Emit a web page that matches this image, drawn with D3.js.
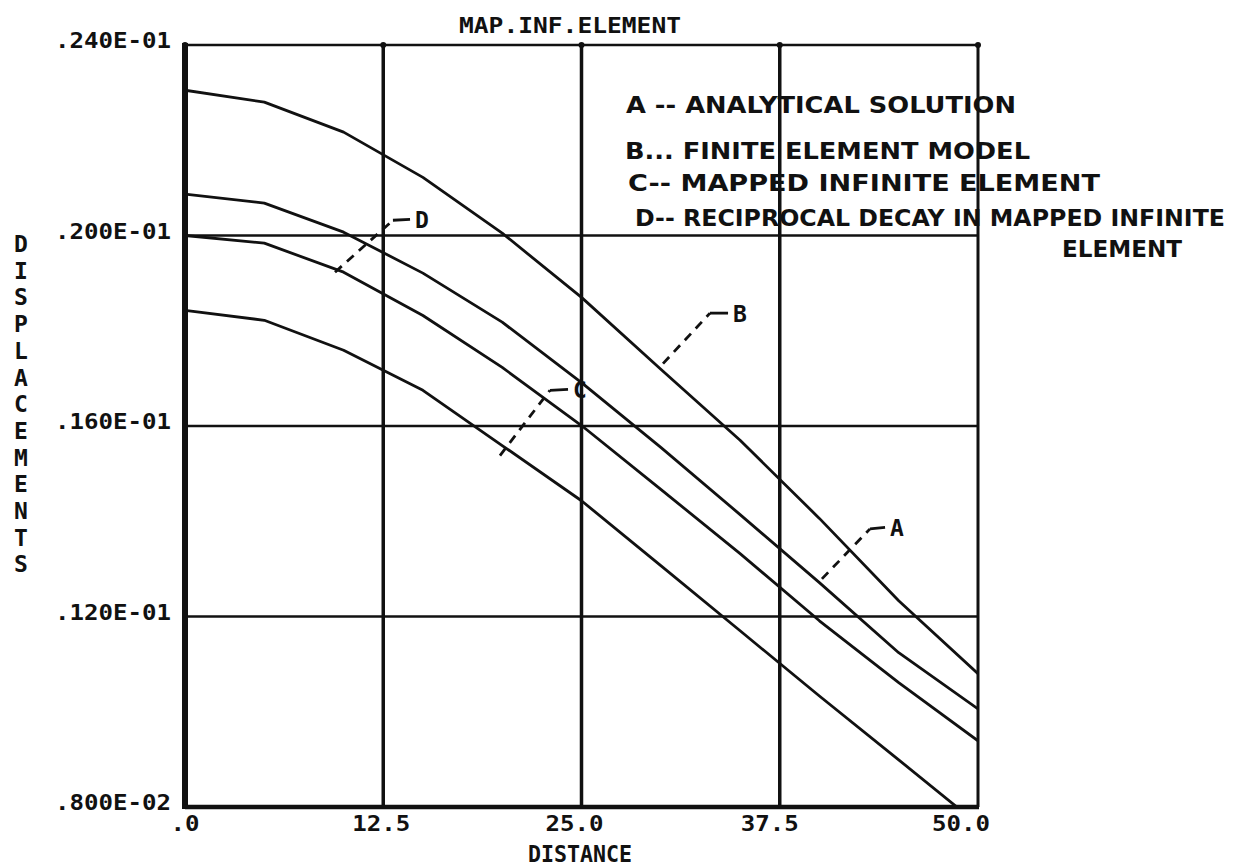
<!DOCTYPE html>
<html>
<head>
<meta charset="utf-8">
<script src="https://cdn.jsdelivr.net/npm/d3@7"></script>
<style>
  html, body { margin: 0; padding: 0; background: #ffffff; }
  svg { display: block; }
</style>
</head>
<body>
<svg id="chart" width="1258" height="866"></svg>
<script>
// ---------------- data ----------------
const distance = [0, 5, 10, 15, 20, 25, 30, 35, 40, 45, 50];
const curveTop    = [0.02305, 0.02280, 0.02217, 0.02122, 0.02005, 0.01870, 0.01719, 0.01570, 0.01406, 0.01233, 0.01080];
const curveSecond = [0.02087, 0.02068, 0.02007, 0.01921, 0.01818, 0.01691, 0.01555, 0.01414, 0.01271, 0.01124, 0.01006];
const curveThird  = [0.02000, 0.01984, 0.01923, 0.01832, 0.01723, 0.01601, 0.01467, 0.01332, 0.01191, 0.01061, 0.00939];
const curveBottom = [0.01843, 0.01822, 0.01759, 0.01675, 0.01559, 0.01443, 0.01307, 0.01170, 0.01033, 0.00899, 0.00764];

const xTicks = [0, 12.5, 25, 37.5, 50];
const xTickLabels = [".0", "12.5", "25.0", "37.5", "50.0"];
const yTicks = [0.008, 0.012, 0.016, 0.020, 0.024];
const yTickLabels = [".800E-02", ".120E-01", ".160E-01", ".200E-01", ".240E-01"];

const titleText = "MAP.INF.ELEMENT";
const xTitle = "DISTANCE";
const yTitle = "DISPLACEMENTS";

// leader annotations: [start, bend, end] in data units, label
const leaderLabels = ["A", "B", "C", "D"];
const leaderStart = [[40.16, 0.01279], [30.14, 0.01731], [19.86, 0.01538], [9.46, 0.01923]];
const leaderBend  = [[43.19, 0.01384], [33.10, 0.01837], [23.01, 0.01675], [13.11, 0.02032]];
const leaderEnd   = [[44.14, 0.01387], [34.24, 0.01837], [24.15, 0.01677], [14.19, 0.02034]];

const legendLines = [
  "A -- ANALYTICAL SOLUTION",
  "B... FINITE ELEMENT MODEL",
  "C-- MAPPED INFINITE ELEMENT",
  "D-- RECIPROCAL DECAY IN MAPPED INFINITE",
  "ELEMENT"
];

// ---------------- layout ----------------
const svg = d3.select("#chart");
const pLeft = 185, pRight = 978, pTop = 45, pBottom = 807;

const x = d3.scaleLinear().domain([0, 50]).range([pLeft, pRight]);
const y = d3.scaleLinear().domain([0.008, 0.024]).range([pBottom, pTop]);

const plotFont = "'DejaVu Sans Mono', 'Liberation Mono', monospace";
const handFont = "'DejaVu Sans', 'Noto Sans', sans-serif";
const ink = "#111";

svg.append("defs").append("clipPath").attr("id", "plotClip")
  .append("rect").attr("x", pLeft).attr("y", pTop)
  .attr("width", pRight - pLeft).attr("height", pBottom - pTop);

// grid lines
svg.append("g").selectAll("line").data(xTicks.slice(1, -1)).join("line")
  .attr("x1", d => x(d)).attr("x2", d => x(d))
  .attr("y1", pTop).attr("y2", pBottom)
  .attr("stroke", ink).attr("stroke-width", 3.5);

svg.append("g").selectAll("line").data(yTicks.slice(1, -1)).join("line")
  .attr("x1", pLeft).attr("x2", pRight)
  .attr("y1", d => y(d)).attr("y2", d => y(d))
  .attr("stroke", ink).attr("stroke-width", 2.5);

// frame: top and right thinner, left and bottom thick
svg.append("line").attr("x1", pLeft).attr("x2", pRight).attr("y1", pTop).attr("y2", pTop)
  .attr("stroke", ink).attr("stroke-width", 2.5);
svg.append("line").attr("x1", pRight).attr("x2", pRight).attr("y1", pTop).attr("y2", pBottom)
  .attr("stroke", ink).attr("stroke-width", 3);
svg.append("line").attr("x1", pLeft).attr("x2", pLeft).attr("y1", pTop - 2).attr("y2", pBottom + 2)
  .attr("stroke", ink).attr("stroke-width", 6);
svg.append("line").attr("x1", pLeft).attr("x2", pRight + 1).attr("y1", pBottom).attr("y2", pBottom)
  .attr("stroke", ink).attr("stroke-width", 4.5);

// small dots at top tick positions
svg.append("g").selectAll("circle").data(xTicks).join("circle")
  .attr("cx", d => x(d)).attr("cy", pTop).attr("r", 3).attr("fill", ink);

// curves
const series = [curveTop, curveSecond, curveThird, curveBottom];
const line = d3.line().x((d, i) => x(distance[i])).y(d => y(d)).curve(d3.curveLinear);
svg.append("g").attr("clip-path", "url(#plotClip)")
  .selectAll("path").data(series).join("path")
  .attr("d", d => line(d))
  .attr("fill", "none").attr("stroke", ink).attr("stroke-width", 2.8)
  .attr("stroke-linejoin", "round");

// leaders
const lg = svg.append("g");
leaderLabels.forEach((lab, i) => {
  const s = leaderStart[i], b = leaderBend[i], e = leaderEnd[i];
  lg.append("line")
    .attr("x1", x(s[0])).attr("y1", y(s[1])).attr("x2", x(b[0])).attr("y2", y(b[1]))
    .attr("stroke", ink).attr("stroke-width", 2.8).attr("stroke-dasharray", "9,7");
  lg.append("line")
    .attr("x1", x(b[0])).attr("y1", y(b[1])).attr("x2", x(e[0])).attr("y2", y(e[1]))
    .attr("stroke", ink).attr("stroke-width", 2.8);
  lg.append("text")
    .attr("x", x(e[0]) + 5).attr("y", y(e[1]) + 9)
    .attr("font-family", plotFont).attr("font-size", 23).attr("font-weight", "bold")
    .attr("fill", ink).text(lab);
});

// y tick labels
svg.append("g").selectAll("text").data(yTicks).join("text")
  .attr("x", 171).attr("y", d => y(d) + 3)
  .attr("text-anchor", "end")
  .attr("textLength", 116).attr("lengthAdjust", "spacingAndGlyphs")
  .attr("font-family", plotFont).attr("font-size", 22).attr("font-weight", "bold").attr("fill", ink)
  .text((d, i) => yTickLabels[i]);

// x tick labels (anchored near decimal point as in the plot)
const xLabelShift = [0, -2, -7, -10, -17];
svg.append("g").selectAll("text").data(xTicks).join("text")
  .attr("x", (d, i) => x(d) + xLabelShift[i]).attr("y", 831)
  .attr("text-anchor", "middle")
  .attr("font-family", plotFont).attr("font-size", 22).attr("font-weight", "bold").attr("fill", ink)
  .attr("textLength", (d, i) => xTickLabels[i].length * 14.5)
  .attr("lengthAdjust", "spacingAndGlyphs")
  .text((d, i) => xTickLabels[i]);

// axis titles
svg.append("text").attr("x", 580).attr("y", 862).attr("text-anchor", "middle")
  .attr("font-family", plotFont).attr("font-size", 23).attr("font-weight", "bold").attr("fill", ink)
  .attr("textLength", 104).attr("lengthAdjust", "spacingAndGlyphs")
  .text(xTitle);

svg.append("g").selectAll("text").data(yTitle.split("")).join("text")
  .attr("x", 21).attr("y", (d, i) => 252 + i * 26.7)
  .attr("text-anchor", "middle")
  .attr("font-family", plotFont).attr("font-size", 23).attr("font-weight", "bold").attr("fill", ink)
  .text(d => d);

svg.append("text").attr("x", 570).attr("y", 33).attr("text-anchor", "middle")
  .attr("font-family", plotFont).attr("font-size", 22).attr("font-weight", "bold").attr("fill", ink)
  .attr("textLength", 222).attr("lengthAdjust", "spacingAndGlyphs")
  .text(titleText);

// handwritten legend
const legendX = [626, 625, 628, 635, 1062];
const legendY = [113, 159, 191, 226, 257];
const legendW = [390, 405, 472, 590, 120];
svg.append("g").selectAll("text").data(legendLines).join("text")
  .attr("x", (d, i) => legendX[i]).attr("y", (d, i) => legendY[i])
  .attr("font-family", handFont).attr("font-size", 23).attr("font-weight", 600).attr("fill", ink)
  .attr("textLength", (d, i) => legendW[i]).attr("lengthAdjust", "spacingAndGlyphs")
  .text(d => d);
</script>
</body>
</html>
